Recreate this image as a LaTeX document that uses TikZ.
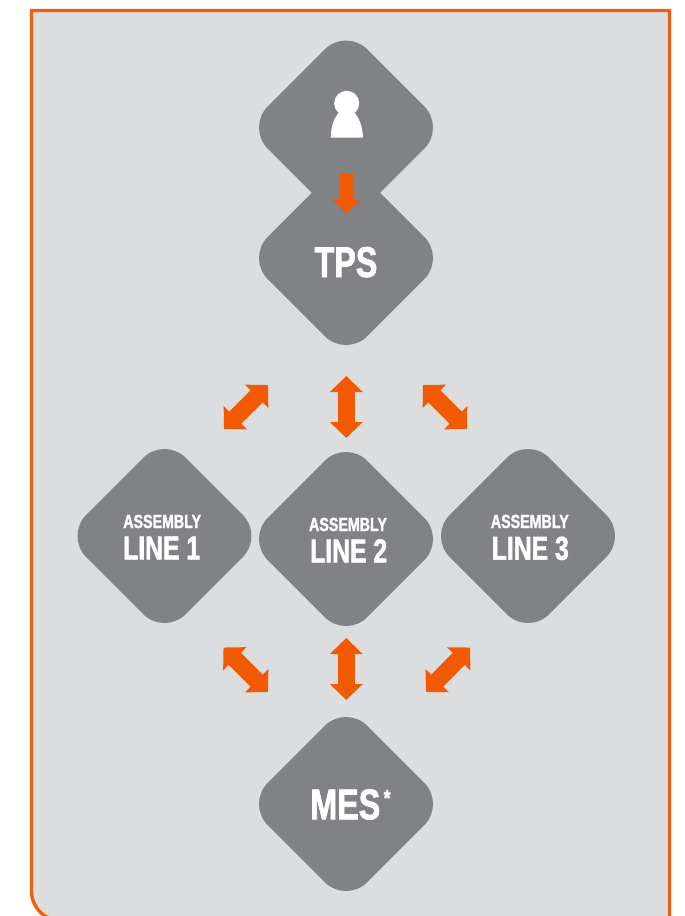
\documentclass[tikz,border=0pt]{standalone}
\usepackage{fontspec}
\setmainfont{Liberation Sans}[FakeStretch=0.75,BoldFont={Liberation Sans Bold},BoldFeatures={FakeBold=1.6}]
\usetikzlibrary{shapes.geometric,arrows.meta}
\definecolor{panelbg}{HTML}{DCDDDE}
\definecolor{panelline}{HTML}{F0600C}
\definecolor{diag}{HTML}{808285}
\definecolor{arr}{HTML}{F15A00}
\tikzset{
  panel/.style={draw=panelline,fill=panelbg,line width=3.4pt},
  tile/.style={diamond,aspect=1,fill=diag,draw=none,rounded corners=30pt,minimum width=199pt,minimum height=199pt,inner sep=0pt,text=white,font=\bfseries,anchor=center},
  block/.style={draw=arr,line width=17pt,{Triangle[width=32pt,length=16pt,fill=arr,color=arr]}-{Triangle[width=32pt,length=16pt,fill=arr,color=arr]}},
  single/.style={draw=arr,line width=13.5pt,-{Triangle[width=27pt,length=14pt,fill=arr,color=arr]}},
  person/.style={fill=white,draw=none}
}
% text placed by its baseline, relative to the centre of its tile: {dx}{dy}{text}
\newcommand{\placed}[3]{\makebox[0pt][c]{\kern#1pt\kern#1pt\raisebox{#2pt}[0pt][0pt]{#3}}}
\newcommand{\asm}[4]{\placed{#2}{8}{\fontsize{19}{19}\selectfont ASSEMBLY}\placed{#3}{-#4}{\fontsize{33}{33}\selectfont LINE #1}}
\newcommand{\bigt}{\fontsize{43}{43}\selectfont}
\begin{document}
\begin{tikzpicture}[x=1pt,y=-1pt]
\useasboundingbox (0,0) rectangle (685,916);
\path[panel] (669.5,925) -- (669.5,10.5) -- (31.5,10.5) [rounded corners=30pt] -- (31.5,921) -- (100,921) [rounded corners=0pt] -- (669.5,921);
\node[tile] (user) at (346,127.5) {};
\node[tile] (tps) at (346,258) {\placed{0}{-19}{\bigt TPS}};
\node[tile] (line1) at (164.5,536) {\asm{1}{-2.3}{-2.85}{23.3}};
\node[tile] (line2) at (346,539) {\asm{2}{2}{2.7}{23.3}};
\node[tile] (line3) at (528,536) {\asm{3}{1.8}{2.3}{23.7}};
\node[tile] (mes) at (346,804) {\placed{4.45}{-15.3}{\bigt MES\kern3.5pt\raisebox{13.5pt}{\fontsize{23}{23}\selectfont *}}};
% person icon
\fill[person] (346.7,103.3) circle (12.5);
\fill[person] (330.7,137.7) .. controls (331,126) and (334,117) .. (340.5,111) -- (353,111) .. controls (359,117) and (362.5,126) .. (363,137.7) -- cycle;
% arrows
\coordinate (ua) at (346.5,174);
\coordinate (ub) at (346.5,214);
\draw[single] (ua) -- (ub);
\coordinate (a1s) at (268,385); \coordinate (a1e) at (224,429);
\coordinate (a2s) at (346.3,376); \coordinate (a2e) at (346.3,438);
\coordinate (a3s) at (423,385); \coordinate (a3e) at (467,429);
\coordinate (b1s) at (223.5,647.5); \coordinate (b1e) at (268,692);
\coordinate (b2s) at (346.3,638); \coordinate (b2e) at (346.3,700);
\coordinate (b3s) at (470,647.5); \coordinate (b3e) at (426,692);
\draw[block] (a1s) -- (a1e);
\draw[block] (a2s) -- (a2e);
\draw[block] (a3s) -- (a3e);
\draw[block] (b1s) -- (b1e);
\draw[block] (b2s) -- (b2e);
\draw[block] (b3s) -- (b3e);
\end{tikzpicture}
\end{document}
